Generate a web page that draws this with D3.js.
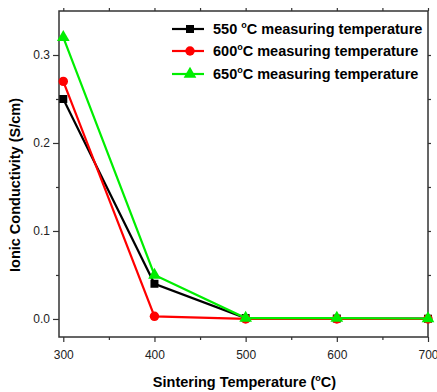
<!DOCTYPE html>
<html>
<head>
<meta charset="utf-8">
<script src="https://cdn.jsdelivr.net/npm/d3@7"></script>
<style>
  body { margin: 0; background: #fff; }
  svg { font-family: "Liberation Sans", Arial, sans-serif; }
</style>
</head>
<body>
<svg id="chart" width="437" height="392"></svg>
<script>
// ========== Data ==========

const sinterTemps = [300, 400, 500, 600, 700];
const xTicks = [300, 400, 500, 600, 700];
const yTicks = [0.0, 0.1, 0.2, 0.3];

const series550 = [0.25, 0.04, 0.001, 0.0005, 0.0003];
const series600 = [0.27, 0.003, 0.0, 0.0, 0.0];
const series650 = [0.32, 0.05, 0.001, 0.001, 0.0005];

const seriesNames = ["550", "600", "650"];

// ========== Setup ==========

const svg = d3.select("#chart");
const margin = { top: 11, right: 9, bottom: 55, left: 59 },
    width = 437 - margin.left - margin.right,
    height = 392 - margin.top - margin.bottom;

const g = svg.append("g").attr("transform", `translate(${margin.left},${margin.top})`);

const x = d3.scaleLinear().domain([295.3, 700]).range([0, width]);
const y = d3.scaleLinear().domain([-0.0205, 0.35]).range([height, 0]);

const axisColor = "#333";

// frame
g.append("rect")
    .attr("width", width)
    .attr("height", height)
    .attr("fill", "none")
    .attr("stroke", axisColor)
    .attr("stroke-width", 1.5);

// bottom axis
const xAxis = g.append("g")
    .attr("transform", `translate(0,${height})`)
    .call(d3.axisBottom(x).tickValues(xTicks).tickFormat(d3.format("d")).tickSize(5).tickPadding(8));
xAxis.select(".domain").remove();
g.append("g")
    .attr("transform", `translate(0,${height})`)
    .call(d3.axisBottom(x).tickValues([350, 450, 550, 650]).tickSize(3).tickFormat(""))
    .select(".domain").remove();

// left axis
const yAxis = g.append("g")
    .call(d3.axisLeft(y).tickValues(yTicks).tickFormat(d3.format(".1f")).tickSize(6).tickPadding(3));
yAxis.select(".domain").remove();
g.append("g")
    .call(d3.axisLeft(y).tickValues([0.05, 0.15, 0.25]).tickSize(3).tickFormat(""))
    .select(".domain").remove();

// mirrored top / right ticks
g.append("g")
    .call(d3.axisTop(x).tickValues(xTicks.concat([350, 450, 550, 650])).tickSize(3).tickFormat(""))
    .select(".domain").remove();
g.append("g")
    .attr("transform", `translate(${width},0)`)
    .call(d3.axisRight(y).tickValues(yTicks.concat([0.05, 0.15, 0.25])).tickSize(3).tickFormat(""))
    .select(".domain").remove();

g.selectAll(".tick line").attr("stroke", axisColor).attr("stroke-width", 1.2);
g.selectAll(".tick text").attr("fill", "#222").style("font-size", "12px");

// ========== Series ==========

const allSeries = [
    { name: "550", values: series550, color: "#000000", shape: d3.symbolSquare, size: 64, label: "550 " },
    { name: "600", values: series600, color: "#ff0000", shape: d3.symbolCircle, size: 70, label: "600" },
    { name: "650", values: series650, color: "#00ee00", shape: d3.symbolTriangle, size: 70, label: "650" }
];

const line = d3.line()
    .x((d, i) => x(sinterTemps[i]))
    .y(d => y(d));

allSeries.forEach(s => {
    g.append("path")
        .datum(s.values)
        .attr("fill", "none")
        .attr("stroke", s.color)
        .attr("stroke-width", 2.2)
        .attr("d", line);

    g.selectAll(null)
        .data(s.values)
        .join("path")
        .attr("transform", (d, i) => `translate(${x(sinterTemps[i])},${y(d)})`)
        .attr("d", d3.symbol().type(s.shape).size(s.size))
        .attr("fill", s.color);
});

// ========== Legend ==========

const legend = svg.append("g").attr("transform", "translate(172,0)");
const legendRows = [29, 51, 74];

allSeries.forEach((s, i) => {
    const row = legend.append("g").attr("transform", `translate(0,${legendRows[i]})`);
    row.append("line")
        .attr("x1", 0).attr("x2", 32)
        .attr("stroke", s.color)
        .attr("stroke-width", 2.2);
    row.append("path")
        .attr("transform", "translate(18,0)")
        .attr("d", d3.symbol().type(s.shape).size(s.size))
        .attr("fill", s.color);
    const t = row.append("text")
        .attr("x", 41)
        .attr("y", 5)
        .attr("fill", "#000")
        .style("font-size", "14.5px")
        .style("font-weight", "bold");
    t.append("tspan").text(s.label);
    t.append("tspan").text("o").attr("dy", -6).style("font-size", "9px");
    t.append("tspan").text("C measuring temperature").attr("dy", 6);
});

// ========== Axis titles ==========

const xTitle = svg.append("text")
    .attr("x", margin.left + width / 2 + 1)
    .attr("y", 387)
    .attr("text-anchor", "middle")
    .style("font-size", "14.5px")
    .style("font-weight", "bold");
xTitle.append("tspan").text("Sintering Temperature (");
xTitle.append("tspan").text("o").attr("dy", -6).style("font-size", "9px");
xTitle.append("tspan").text("C)").attr("dy", 6);

svg.append("text")
    .attr("transform", `translate(20,${margin.top + 174}) rotate(-90)`)
    .attr("text-anchor", "middle")
    .style("font-size", "14.5px")
    .style("font-weight", "bold")
    .text("Ionic Conductivity (S/cm)");
</script>
</body>
</html>
